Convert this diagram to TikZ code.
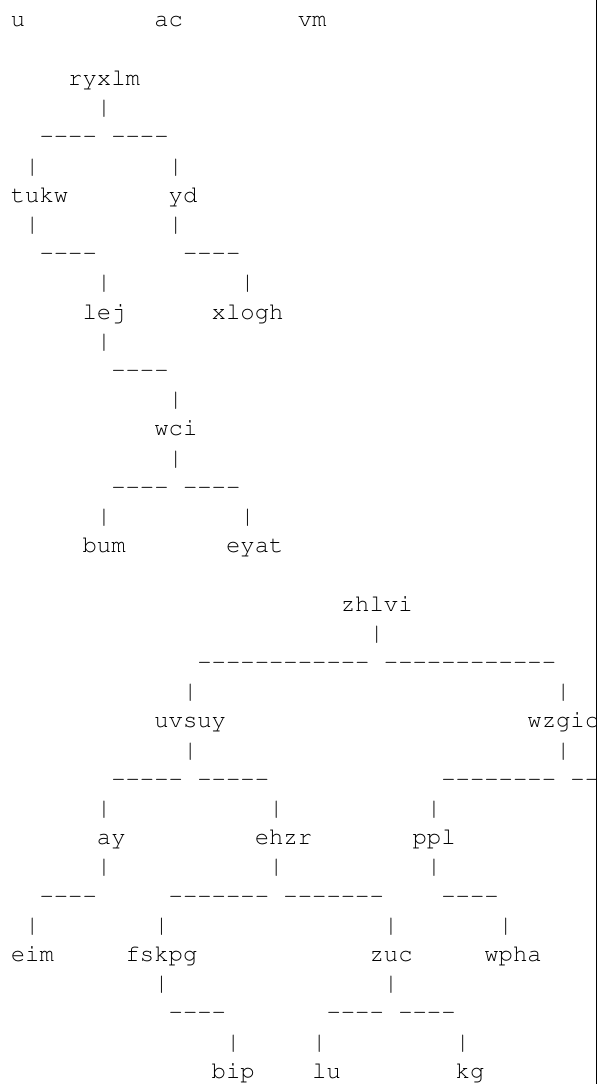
\documentclass[tikz,border=0pt]{standalone}
\usepackage[T1]{fontenc}
\usepackage{courier}
\newcommand\cw{14.35}
\newcommand\rh{29.2}
\newcommand\hy{-\kern0pt}
\tikzset{
  txt/.style={inner sep=0pt, outer sep=0pt, anchor=base west, text=black,
    font=\ttfamily\fontsize{23.92}{29}\selectfont},
  frame/.style={draw=black, line width=1.3pt}
}
\newcommand\T[4]{\node[txt] (#1) at ({10.8+#3*\cw},{-(27+#2*\rh)}) {#4};}
\begin{document}
\begin{tikzpicture}[x=1pt,y=1pt]
\useasboundingbox (0,0) rectangle (597,-1084);
\begin{scope}
\clip (0,0) rectangle (596,-1084);
% row 0
\T{u}{0}{0}{u}\T{ac}{0}{10}{ac}\T{vm}{0}{20}{vm}
% first tree
\T{ryxlm}{2}{4}{ryxlm}
\T{p3a}{3}{6}{|}
\T{d4a}{4}{2}{\hy\hy\hy\hy}\T{d4b}{4}{7}{\hy\hy\hy\hy}
\T{p5a}{5}{1}{|}\T{p5b}{5}{11}{|}
\T{tukw}{6}{0}{tukw}\T{yd}{6}{11}{yd}
\T{p7a}{7}{1}{|}\T{p7b}{7}{11}{|}
\T{d8a}{8}{2}{\hy\hy\hy\hy}\T{d8b}{8}{12}{\hy\hy\hy\hy}
\T{p9a}{9}{6}{|}\T{p9b}{9}{16}{|}
\T{lej}{10}{5}{lej}\T{xlogh}{10}{14}{xlogh}
\T{p11a}{11}{6}{|}
\T{d12a}{12}{7}{\hy\hy\hy\hy}
\T{p13a}{13}{11}{|}
\T{wci}{14}{10}{wci}
\T{p15a}{15}{11}{|}
\T{d16a}{16}{7}{\hy\hy\hy\hy}\T{d16b}{16}{12}{\hy\hy\hy\hy}
\T{p17a}{17}{6}{|}\T{p17b}{17}{16}{|}
\T{bum}{18}{5}{bum}\T{eyat}{18}{15}{eyat}
% second tree
\T{zhlvi}{20}{23}{zhlvi}
\T{p21a}{21}{25}{|}
\T{d22a}{22}{13}{\hy\hy\hy\hy\hy\hy\hy\hy\hy\hy\hy\hy}\T{d22b}{22}{26}{\hy\hy\hy\hy\hy\hy\hy\hy\hy\hy\hy\hy}
\T{p23a}{23}{12}{|}\T{p23b}{23}{38}{|}
\T{uvsuy}{24}{10}{uvsuy}\T{wzgic}{24}{36}{wzgic}
\T{p25a}{25}{12}{|}\T{p25b}{25}{38}{|}
\T{d26a}{26}{7}{\hy\hy\hy\hy\hy}\T{d26b}{26}{13}{\hy\hy\hy\hy\hy}\T{d26c}{26}{30}{\hy\hy\hy\hy\hy\hy\hy\hy}\T{d26d}{26}{39}{\hy\hy\hy\hy}
\T{p27a}{27}{6}{|}\T{p27b}{27}{18}{|}\T{p27c}{27}{29}{|}
\T{ay}{28}{6}{ay}\T{ehzr}{28}{17}{ehzr}\T{ppl}{28}{28}{ppl}
\T{p29a}{29}{6}{|}\T{p29b}{29}{18}{|}\T{p29c}{29}{29}{|}
\T{d30a}{30}{2}{\hy\hy\hy\hy}\T{d30b}{30}{11}{\hy\hy\hy\hy\hy\hy\hy}\T{d30c}{30}{19}{\hy\hy\hy\hy\hy\hy\hy}\T{d30d}{30}{30}{\hy\hy\hy\hy}
\T{p31a}{31}{1}{|}\T{p31b}{31}{10}{|}\T{p31c}{31}{26}{|}\T{p31d}{31}{34}{|}
\T{eim}{32}{0}{eim}\T{fskpg}{32}{8}{fskpg}\T{zuc}{32}{25}{zuc}\T{wpha}{32}{33}{wpha}
\T{p33a}{33}{10}{|}\T{p33b}{33}{26}{|}
\T{d34a}{34}{11}{\hy\hy\hy\hy}\T{d34b}{34}{22}{\hy\hy\hy\hy}\T{d34c}{34}{27}{\hy\hy\hy\hy}
\T{p35a}{35}{15}{|}\T{p35b}{35}{21}{|}\T{p35c}{35}{31}{|}
\T{bip}{36}{14}{bip}\T{lu}{36}{21}{lu}\T{kg}{36}{31}{kg}
\end{scope}
\coordinate (bt) at (596.3,0);
\coordinate (bb) at (596.3,-1084);
\draw[frame] (bt) -- (bb);
\end{tikzpicture}
\end{document}
